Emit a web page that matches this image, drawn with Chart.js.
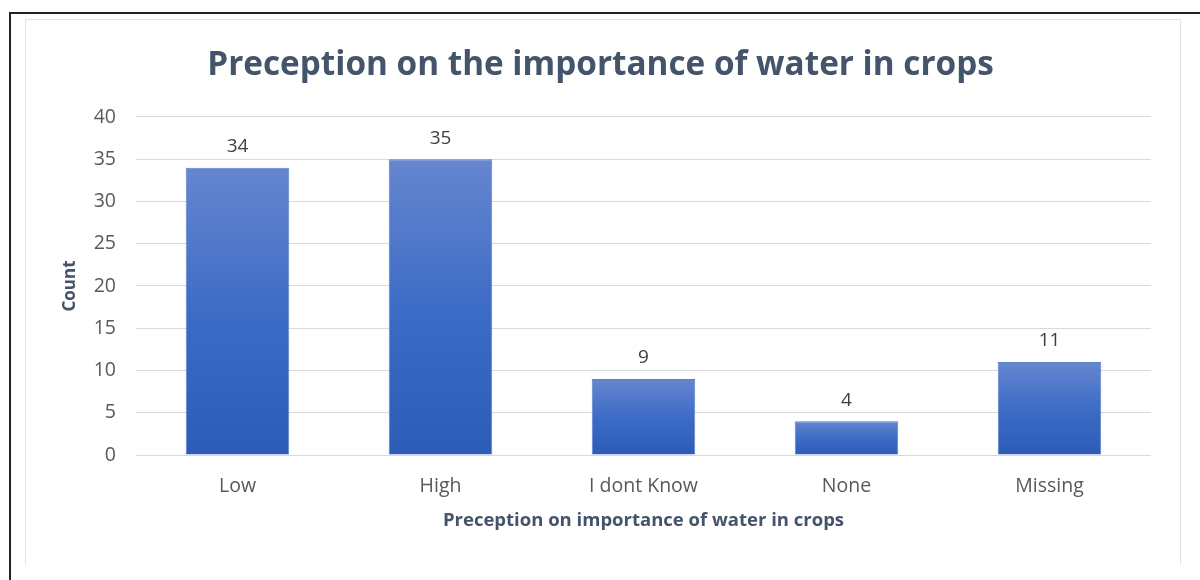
<!DOCTYPE html>
<html>
<head>
<meta charset="utf-8">
<title>Preception on the importance of water in crops</title>
<script src="https://cdn.jsdelivr.net/npm/chart.js@4"></script>
<style>
  html, body { margin: 0; padding: 0; background: #fff; }
  #frame { position: relative; width: 1200px; height: 580px; overflow: hidden; }
  /* dark outer border and light chart border */
  #outer { position: absolute; left: 9px; top: 12px; width: 1300px; height: 700px; border-left: 2px solid #222; border-top: 2px solid #222; }
  #inner { position: absolute; left: 25px; top: 19px; width: 1154px; height: 545px; border: 1px solid #dde3ea; border-bottom: none; }
  #chart { position: absolute; left: 0; top: 0; }
</style>
</head>
<body>
<div id="frame">
  <div id="outer"></div>
  <div id="inner"></div>
  <canvas id="chart" width="1200" height="580"></canvas>
</div>
<script>
// Answers per category
const categories = ["Low", "High", "I dont Know", "None", "Missing"];
const counts = [34, 35, 9, 4, 11];
const yTicks = [0, 5, 10, 15, 20, 25, 30, 35, 40];

const FONT = "'Open Sans', sans-serif";

// vertical gradient per bar, light at the top, dark at the base
function barGradient(context) {
  const chart = context.chart;
  const yScale = chart.scales.y;
  if (!chart.chartArea || !yScale || context.raw === undefined) return "#4472c4";
  const top = yScale.getPixelForValue(context.raw);
  const base = yScale.getPixelForValue(0);
  if (!isFinite(top) || !isFinite(base) || top === base) return "#4472c4";
  const g = chart.ctx.createLinearGradient(0, top, 0, base);
  g.addColorStop(0, "#6686cf");
  g.addColorStop(0.5, "#3d6cc6");
  g.addColorStop(1, "#2c5cb8");
  return g;
}

// value labels above each bar
const valueLabels = {
  id: "valueLabels",
  afterDatasetsDraw(chart) {
    const ctx = chart.ctx;
    const meta = chart.getDatasetMeta(0);
    ctx.save();
    ctx.font = "19px " + FONT;
    ctx.fillStyle = "#404040";
    ctx.textAlign = "center";
    ctx.textBaseline = "middle";
    meta.data.forEach((bar, i) => {
      ctx.fillText(counts[i], bar.x, bar.y - 21);
    });
    ctx.restore();
  }
};

new Chart(document.getElementById("chart"), {
  type: "bar",
  data: {
    labels: categories,
    datasets: [
      {
        label: "Count",
        data: counts,
        backgroundColor: barGradient,
        borderColor: "#5a80cc",
        borderWidth: 1,
        barPercentage: 0.51,
        categoryPercentage: 1
      }
    ]
  },
  options: {
    responsive: false,
    animation: false,
    layout: {
      padding: { left: 50, right: 49, top: 20, bottom: 46 }
    },
    plugins: {
      legend: { display: false },
      tooltip: { enabled: false },
      title: {
        display: true,
        text: "Preception on the importance of water in crops",
        color: "#44546a",
        font: { family: FONT, size: 33.3, weight: "bold" },
        padding: { top: 26, bottom: 31 }
      }
    },
    scales: {
      x: {
        grid: { display: false, drawTicks: false },
        border: { display: false },
        ticks: {
          color: "#595959",
          font: { family: FONT, size: 19.5 },
          padding: 20
        },
        title: {
          display: true,
          text: "Preception on importance of water in crops",
          color: "#44546a",
          font: { family: FONT, size: 18.5, weight: "bold" },
          padding: { top: 4, bottom: 2 }
        },
        afterFit(axis) { axis.height = 79; }
      },
      y: {
        min: 0,
        max: 40,
        afterBuildTicks(axis) { axis.ticks = yTicks.map(v => ({ value: v })); },
        grid: { color: "#d9d9d9", drawTicks: false },
        border: { display: false },
        ticks: {
          color: "#595959",
          font: { family: FONT, size: 19.5 },
          padding: 20
        },
        title: {
          display: true,
          text: "Count",
          color: "#44546a",
          font: { family: FONT, size: 17, weight: "bold" },
          padding: { top: 10, bottom: 4 }
        },
        afterFit(axis) { axis.width = 86; }
      }
    }
  },
  plugins: [valueLabels]
});
</script>
</body>
</html>
